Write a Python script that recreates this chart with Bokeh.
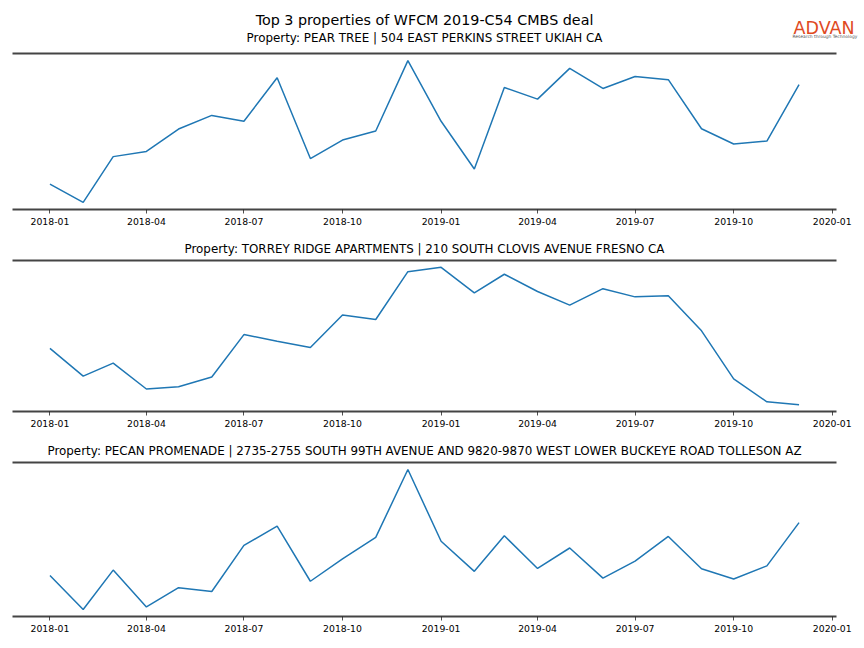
import pandas as pd
from bokeh.plotting import figure
from bokeh.models import (Title, LinearAxis, FixedTicker, ColumnDataSource,
                          DatetimeTickFormatter, Range1d)
from bokeh.core.properties import value
from bokeh.layouts import column, row
from bokeh.embed import file_html
from bokeh.resources import INLINE

# ---- data (monthly index; y scale is unlabelled) ----
months = pd.date_range("2018-01-01", "2019-12-01", freq="MS")

pear_tree = [23.5, 4.7, 51.7, 57.0, 80.0, 94.0, 88.0, 132.7, 49.7, 68.7, 78.0, 150.3,
             88.0, 39.0, 122.7, 110.7, 142.3, 121.7, 134.0, 130.7, 80.3, 64.7, 67.7, 125.7]
torrey_ridge = [62.0, 32.7, 46.4, 19.0, 21.4, 31.7, 76.7, 69.7, 63.0, 97.4, 92.7, 143.4,
                148.0, 121.0, 140.7, 122.4, 108.0, 125.4, 116.7, 118.0, 80.7, 29.7, 5.4, 2.4]
pecan_promenade = [38.4, 3.0, 44.0, 5.7, 25.7, 21.7, 69.7, 89.7, 32.4, 55.7, 78.0, 148.7,
                   74.0, 42.7, 79.7, 45.7, 67.0, 35.7, 53.4, 79.0, 45.4, 34.7, 48.4, 93.4]

titles = [
    "Property: PEAR TREE | 504 EAST PERKINS STREET UKIAH CA",
    "Property: TORREY RIDGE APARTMENTS | 210 SOUTH CLOVIS AVENUE FRESNO CA",
    "Property: PECAN PROMENADE | 2735-2755 SOUTH 99TH AVENUE AND 9820-9870 WEST LOWER BUCKEYE ROAD TOLLESON AZ",
]
series = [pear_tree, torrey_ridge, pecan_promenade]
tick_labels = ["2018-01", "2018-04", "2018-07", "2018-10", "2019-01",
               "2019-04", "2019-07", "2019-10", "2020-01"]
suptitle = "Top 3 properties of WFCM 2019-C54 CMBS deal"
logo_text = "ADVAN"
logo_tagline = "Research through Technology"

FONT = "DejaVu Sans"
SPINE = "#444444"
LINE = "#1f77b4"
W = 864
LEFT, RIGHT = 12, 28

tick_ms = [pd.Timestamp(t + "-01").value // 10**6 for t in tick_labels]

# ---- header: suptitle, first subtitle and logo (page pixel coordinates) ----
HEAD_H = 49
head = figure(width=W, height=HEAD_H, output_backend="svg", toolbar_location=None,
              x_range=Range1d(0, W), y_range=Range1d(HEAD_H, 0),
              x_axis_location=None, y_axis_location=None,
              min_border_left=0, min_border_right=0,
              min_border_top=0, min_border_bottom=0)
head.grid.visible = False
head.outline_line_color = None
frame_mid = LEFT + (W - LEFT - RIGHT) / 2
head.text(x=[frame_mid], y=[19], text=[suptitle], text_font=value(FONT),
          text_font_size="14.3px", text_align="center", text_baseline="alphabetic",
          text_color="#000000")
head.text(x=[frame_mid], y=[37.3], text=[titles[0]], text_font=value(FONT),
          text_font_size="11.9px", text_align="center", text_baseline="alphabetic",
          text_color="#000000")
head.text(x=[793], y=[27.5], text=[logo_text], text_font=value(FONT),
          text_font_size="17.5px", text_align="left", text_baseline="alphabetic",
          text_color="#e04a1f")
head.text(x=[792], y=[35.5], text=[logo_tagline], text_font=value(FONT),
          text_font_size="4.4px", text_align="left", text_baseline="alphabetic",
          text_color="#555555")

heights = [183, 204, 212]
borders_top = [4, 28, 26]
borders_bottom = [23, 25, 32]

figs = []
for i, (vals, ttl) in enumerate(zip(series, titles)):
    src = ColumnDataSource(dict(date=months, value=vals))
    p = figure(width=W, height=heights[i], x_axis_type="datetime",
               output_backend="svg", toolbar_location=None,
               min_border_left=LEFT, min_border_right=RIGHT,
               min_border_top=borders_top[i], min_border_bottom=borders_bottom[i])
    p.line("date", "value", source=src, line_color=LINE, line_width=1.5)
    p.x_range.range_padding = 0.1
    p.y_range.range_padding = 0.1
    p.yaxis.visible = False
    p.xgrid.visible = False
    p.ygrid.visible = False
    p.outline_line_color = None

    ax = p.xaxis[0]
    ax.ticker = FixedTicker(ticks=tick_ms)
    ax.formatter = DatetimeTickFormatter(months="%Y-%m", days="%Y-%m", years="%Y-%m")
    ax.axis_line_color = SPINE
    ax.axis_line_width = 2
    ax.major_tick_line_color = "#222222"
    ax.major_tick_line_width = 0.8
    ax.major_tick_in = 0
    ax.major_tick_out = 4
    ax.minor_tick_line_color = None
    ax.major_label_text_font = FONT
    ax.major_label_text_font_size = "9.3px"
    ax.major_label_text_color = "#000000"
    ax.major_label_standoff = 4

    # top spine: an axis line with no ticks or labels
    top = LinearAxis(ticker=FixedTicker(ticks=[]), major_tick_line_color=None,
                     minor_tick_line_color=None, major_tick_out=0, major_tick_in=0,
                     major_label_standoff=0, axis_line_color=SPINE, axis_line_width=2)
    p.add_layout(top, "above")

    if i > 0:
        p.add_layout(Title(text=ttl, align="center", text_font=FONT,
                           text_font_size="11.9px", text_font_style="normal",
                           text_color="#000000", offset=0, standoff=9), "above")
    figs.append(p)

layout = column(row(head, spacing=0), *figs, spacing=0)
open("out.html", "w").write(file_html(layout, INLINE))
